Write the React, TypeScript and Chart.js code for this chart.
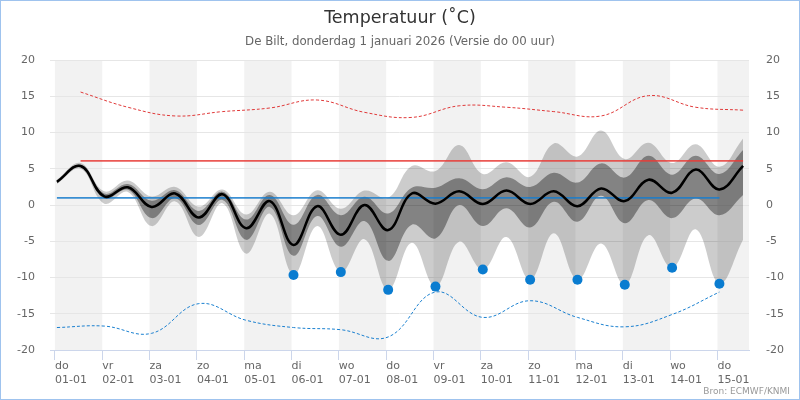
import React, { useEffect, useRef } from "react";
import { Chart, registerables } from "chart.js";

Chart.register(...registerables);

const FONT = "'DejaVu Sans', sans-serif";

const titleText = "Temperatuur (˚C)";
const subtitleText = "De Bilt, donderdag 1 januari 2026 (Versie do 00 uur)";
const creditText = "Bron: ECMWF/KNMI";

// x-axis ticks (hours since 01-01 00:00)
const tickHours = [0, 24, 48, 72, 96, 120, 144, 168, 192, 216, 240, 264, 288, 312, 336];
const dayNames = ["do", "vr", "za", "zo", "ma", "di", "wo", "do", "vr", "za", "zo", "ma", "di", "wo", "do"];
const dayDates = ["01-01", "02-01", "03-01", "04-01", "05-01", "06-01", "07-01", "08-01", "09-01", "10-01", "11-01", "12-01", "13-01", "14-01", "15-01"];
const shadedStartHours = [0, 48, 96, 144, 192, 240, 288, 336];

// ensemble, every 12 hours
const ensHours = [1, 13, 25, 37, 49, 61, 73, 85, 97, 109, 121, 133, 145, 157, 169, 181, 193, 205, 217, 229, 241, 253, 265, 277, 289, 301, 313, 325, 337, 349];
const median = [3.2, 5.4, 1.2, 2.45, -0.25, 1.6, -1.7, 1.5, -3.2, 0.55, -5.5, -0.15, -4.1, 0.0, -3.45, 1.6, 0.2, 1.9, 0.15, 2.0, 0.15, 1.9, -0.15, 2.3, 0.55, 3.5, 1.7, 4.9, 2.15, 5.4];
const outerHigh = [3.5, 5.8, 1.9, 3.4, 1.2, 2.5, -0.2, 2.15, -1.3, 1.85, -1.4, 2.05, -0.5, 2.0, 1.0, 5.4, 4.7, 8.3, 4.3, 5.9, 3.9, 8.5, 6.7, 10.3, 6.35, 8.6, 5.8, 8.4, 5.3, 9.2];
const innerHigh = [3.3, 5.55, 1.6, 2.9, 0.6, 2.05, -0.8, 1.85, -2.0, 1.4, -2.7, 1.4, -1.4, 1.15, -1.15, 2.4, 2.4, 3.7, 2.2, 3.85, 2.5, 4.45, 3.1, 5.75, 3.8, 6.8, 4.2, 6.8, 4.3, 7.6];
const innerLow = [3.1, 5.25, 0.9, 2.1, -1.8, 0.95, -2.75, 0.7, -4.8, -0.25, -7.0, -1.5, -5.75, -2.2, -7.7, -2.7, -4.6, 0.0, -2.9, -0.45, -3.1, 0.45, -2.3, 1.3, -2.5, 0.7, -1.8, 0.9, -1.4, 1.4];
const outerLow = [2.9, 5.0, 0.2, 1.8, -2.9, 0.5, -4.4, 0.25, -6.7, -1.2, -9.6, -2.9, -9.25, -4.7, -11.7, -5.2, -11.25, -5.05, -8.9, -4.4, -10.3, -3.9, -10.3, -5.3, -11.0, -4.15, -8.65, -3.35, -10.85, -4.8];

// climate records
const recMaxHours = [13, 37, 61, 85, 109, 133, 157, 181, 205, 229, 253, 277, 301, 325, 349];
const recordMax = [15.6, 13.5, 12.3, 12.9, 13.4, 14.5, 12.8, 12.1, 13.7, 13.5, 12.9, 12.3, 15.1, 13.5, 13.1];
const recMinHours = [1, 25, 49, 73, 97, 121, 145, 169, 193, 217, 241, 265, 289, 313, 337];
const recordMin = [-16.9, -16.7, -17.7, -13.6, -15.9, -16.9, -17.2, -18.2, -12.0, -15.5, -13.2, -15.5, -16.8, -15.1, -12.0];

// normals
const normMaxHours = [13, 349];
const normMax = [6.1, 6.1];
const normMinHours = [1, 337];
const normMin = [1.0, 1.0];

// blue dots
const dotHours = [121, 145, 169, 193, 217, 241, 265, 289, 313, 337];
const dotValues = [-9.65, -9.25, -11.7, -11.25, -8.9, -10.3, -10.3, -11.0, -8.65, -10.85];

const yTicks = [-20, -15, -10, -5, 0, 5, 10, 15, 20];

const pts = (xs: number[], ys: number[]) => xs.map((x, i) => ({ x, y: ys[i] }));

const decorPlugin = {
  id: "decor",
  beforeDraw(chart: any) {
    const { ctx, chartArea, scales } = chart;
    const xs = scales.x;
    ctx.save();
    ctx.fillStyle = "#f2f2f2";
    shadedStartHours.forEach((h) => {
      const a = Math.max(xs.getPixelForValue(h), chartArea.left);
      const b = Math.min(xs.getPixelForValue(h + 24), chartArea.right);
      if (b > a) ctx.fillRect(a, chartArea.top, b - a, chartArea.bottom - chartArea.top);
    });
    ctx.restore();
  },
  afterDraw(chart: any) {
    const { ctx, width, height } = chart;
    ctx.save();
    ctx.font = "9px " + FONT;
    ctx.fillStyle = "#999999";
    ctx.textAlign = "right";
    ctx.textBaseline = "middle";
    ctx.fillText(creditText, width - 10, height - 8);
    ctx.strokeStyle = "#9fc3ee";
    ctx.lineWidth = 1;
    ctx.strokeRect(0.5, 0.5, width - 1, height - 1);
    ctx.restore();
  },
};

export default function App() {
  const ref = useRef<HTMLCanvasElement | null>(null);

  useEffect(() => {
    if (!ref.current) return;
    const base = { pointRadius: 0, pointHoverRadius: 0, yAxisID: "y" };
    const chart = new Chart(ref.current, {
      type: "line",
      data: {
        datasets: [
          { ...base, data: pts(ensHours, outerHigh), borderWidth: 0, borderColor: "rgba(0,0,0,0)", backgroundColor: "rgba(0,0,0,0.2)", fill: "+1", tension: 0.4, order: 9 },
          { ...base, data: pts(ensHours, outerLow), borderWidth: 0, borderColor: "rgba(0,0,0,0)", fill: false, tension: 0.4, order: 8 },
          { ...base, data: pts(ensHours, innerHigh), borderWidth: 0, borderColor: "rgba(0,0,0,0)", backgroundColor: "rgba(0,0,0,0.36)", fill: "+1", tension: 0.4, order: 7 },
          { ...base, data: pts(ensHours, innerLow), borderWidth: 0, borderColor: "rgba(0,0,0,0)", fill: false, tension: 0.4, order: 6 },
          { ...base, data: pts(recMaxHours, recordMax), borderWidth: 1, borderColor: "#e03a3a", borderDash: [3, 2], fill: false, tension: 0.4, order: 5 },
          { ...base, data: pts(recMinHours, recordMin), borderWidth: 1, borderColor: "#1a80d0", borderDash: [3, 2], fill: false, tension: 0.4, order: 4 },
          { ...base, data: pts(normMaxHours, normMax), borderWidth: 1.6, borderColor: "rgba(232,60,55,0.85)", fill: false, order: 3 },
          { ...base, data: pts(normMinHours, normMin), borderWidth: 1.6, borderColor: "rgba(25,125,205,0.85)", fill: false, order: 2 },
          { ...base, data: pts(ensHours, median), borderWidth: 2.5, borderColor: "#000000", fill: false, tension: 0.4, order: 1 },
          { ...base, data: pts(dotHours, dotValues), showLine: false, pointRadius: 5, pointBackgroundColor: "#0a7cd0", pointBorderWidth: 0, borderColor: "#0a7cd0", fill: false, order: 0 },
        ],
      },
      options: {
        animation: false,
        responsive: true,
        maintainAspectRatio: false,
        events: [],
        layout: { padding: { top: 0, left: 0, right: 0, bottom: 0 } },
        plugins: {
          legend: { display: false },
          tooltip: { enabled: false },
          title: {
            display: true,
            text: titleText,
            color: "#333333",
            font: { family: FONT, size: 17.5, weight: "normal" },
            padding: { top: 8, bottom: 3 },
          },
          subtitle: {
            display: true,
            text: subtitleText,
            color: "#666666",
            font: { family: FONT, size: 11.8, weight: "normal" },
            padding: { top: 3, bottom: 11 },
          },
        },
        scales: {
          x: {
            type: "linear",
            min: -2.5,
            max: 352,
            afterBuildTicks: (s: any) => {
              s.ticks = tickHours.map((v) => ({ value: v }));
            },
            afterFit: (s: any) => {
              s.height = 50;
            },
            grid: { drawOnChartArea: false, drawTicks: true, tickLength: 10, tickColor: "#ccd6eb", color: "#ccd6eb" },
            border: { display: true, color: "#ccd6eb", width: 1 },
            ticks: {
              autoSkip: false,
              maxRotation: 0,
              minRotation: 0,
              align: "start",
              padding: -1,
              color: "#666666",
              font: { family: FONT, size: 11, lineHeight: 1.27 },
              callback: (v: any) => {
                const i = tickHours.indexOf(Number(v));
                return i >= 0 ? [dayNames[i], dayDates[i]] : "";
              },
            },
          },
          y: {
            position: "left",
            min: -20,
            max: 20,
            afterBuildTicks: (s: any) => {
              s.ticks = yTicks.map((v) => ({ value: v }));
            },
            afterFit: (s: any) => {
              s.width = 50;
            },
            grid: { color: "#e6e6e6", drawTicks: false },
            border: { display: false },
            ticks: { padding: 15, color: "#666666", font: { family: FONT, size: 11 } },
          },
          y2: {
            position: "right",
            min: -20,
            max: 20,
            afterBuildTicks: (s: any) => {
              s.ticks = yTicks.map((v) => ({ value: v }));
            },
            afterFit: (s: any) => {
              s.width = 51;
            },
            grid: { drawOnChartArea: false, drawTicks: false },
            border: { display: false },
            ticks: { padding: 17, color: "#666666", font: { family: FONT, size: 11 } },
          },
        },
      } as any,
      plugins: [decorPlugin],
    });
    return () => chart.destroy();
  }, []);

  return (
    <div style={{ position: "absolute", left: 0, top: 0, width: 800, height: 400, background: "#ffffff" }}>
      <canvas ref={ref} />
    </div>
  );
}
